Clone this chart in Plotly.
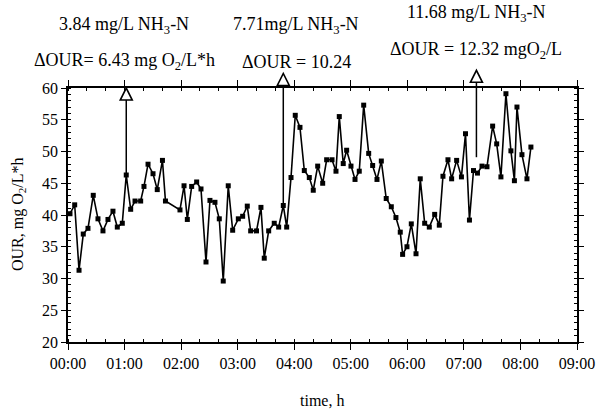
import plotly.graph_objects as go

# time in minutes since 00:00, OUR values (mg O2/L*h)
time_min = [2.1, 7.1, 11.7, 16.2, 21.2, 26.8, 31.8, 37.1, 42.4, 47.7, 52.3, 57.6, 61.8, 66.5,
            71.1, 77.1, 80.6, 84.9, 90.2, 94.7, 100.2, 103.4, 118.8, 123.1, 126.6, 131.2,
            136.5, 141.1, 146.4, 150.6, 155.9, 160.5, 164.7, 170.0, 174.7, 180.7, 185.3,
            190.2, 193.8, 200.0, 204.7, 208.2, 212.9, 218.8, 223.5, 228.4, 232.0, 236.6,
            241.1, 246.1, 250.7, 256.0, 260.2, 264.9, 270.2, 274.4, 280.1, 284.3, 287.8,
            292.0, 295.6, 300.2, 304.5, 309.0, 313.7, 319.0, 323.2, 327.8, 332.4, 337.6,
            343.0, 347.9, 352.5, 355.0, 359.6, 364.2, 369.2, 373.7, 378.4, 383.3, 389.0,
            393.9, 397.8, 403.1, 407.0, 412.3, 417.4, 421.7, 425.9, 430.2, 434.4, 439.2,
            444.5, 450.5, 454.8, 459.3, 464.6, 469.9, 473.6, 476.3, 481.6, 486.9, 491.1]
our = [40.2, 41.6, 31.3, 37.0, 37.9, 43.1, 39.4, 37.5, 39.3, 40.6, 38.1, 38.7, 46.3, 40.9,
       42.2, 42.2, 44.5, 48.0, 46.5, 44.0, 48.6, 42.2, 40.8, 44.6, 39.3, 44.5,
       45.2, 44.1, 32.6, 42.3, 42.0, 39.4, 29.6, 44.6, 37.6, 39.4, 39.8,
       41.4, 37.5, 37.5, 41.2, 33.2, 37.5, 38.7, 38.1, 41.5, 38.1, 45.9,
       55.7, 53.8, 47.0, 45.9, 43.9, 47.7, 45.0, 48.7, 48.7, 46.9, 55.5,
       48.1, 50.2, 47.7, 45.6, 46.9, 57.3, 49.7, 47.8, 45.6, 48.5, 42.6,
       41.3, 39.6, 37.3, 33.8, 35.0, 38.6, 33.9, 45.7, 38.7, 38.1, 40.1,
       38.4, 46.1, 48.7, 45.7, 48.6, 46.0, 52.8, 39.2, 47.0, 46.6, 47.7,
       47.6, 54.0, 51.2, 46.0, 59.1, 50.1, 45.4, 57.0, 49.5, 45.7, 50.7]

# ammonia additions (arrows): time, bottom of shaft, base of arrow head (OUR units)
arrow_time = [61.8, 228.4, 433.3]
arrow_base = [46.3, 41.5, 49.1]
arrow_head = [58.1, 60.4, 60.9]
label_line1 = ["3.84 mg/L NH<sub>3</sub>-N", "7.71mg/L NH<sub>3</sub>-N", "11.68 mg/L NH<sub>3</sub>-N"]
label_line2 = ["ΔOUR= 6.43 mg O<sub>2</sub>/L*h", "ΔOUR = 10.24", "ΔOUR = 12.32 mgO<sub>2</sub>/L"]

tick_vals = [0, 60, 120, 180, 240, 300, 360, 420, 480, 540]
tick_text = ["00:00", "01:00", "02:00", "03:00", "04:00", "05:00", "06:00", "07:00", "08:00", "09:00"]

X_MAX = 540
Y_MIN, Y_MAX = 20, 60
FONT = "Liberation Serif, Times New Roman, serif"
L, R, T, B = 68, 22, 88, 68
W, H = 599, 410
PW, PH = W - L - R, H - T - B

fig = go.Figure()

fig.add_trace(go.Scatter(x=time_min, y=our, mode="lines+markers",
                         line=dict(color="black", width=1.6),
                         marker=dict(symbol="square", size=5, color="black"),
                         showlegend=False))

def to_py(v):
    return (v - Y_MIN) / (Y_MAX - Y_MIN)

# arrows: shaft + open triangle head, drawn unclipped in paper coordinates
for t, b, h in zip(arrow_time, arrow_base, arrow_head):
    px = t / X_MAX
    fig.add_shape(type="line", xref="paper", yref="paper", x0=px, x1=px,
                  y0=to_py(b), y1=to_py(h), line=dict(color="black", width=1.5))
    fig.add_shape(type="path", xref="paper", yref="paper", xsizemode="pixel", ysizemode="pixel",
                  xanchor=px, yanchor=to_py(h), path="M -6,0 L 6,0 L 0,12 Z",
                  fillcolor="white", line=dict(color="black", width=1.6))

# labels (pixel positions converted to paper)
label_y1 = [25, 25, 13]
label_y2 = [62, 62, 50]
label_x = [124, 296, 476]
for lx, y1, y2, t1, t2 in zip(label_x, label_y1, label_y2, label_line1, label_line2):
    for yy, txt in ((y1, t1), (y2, t2)):
        fig.add_annotation(x=(lx - L) / PW, y=(H - B - yy) / PH, xref="paper", yref="paper",
                           text=txt, showarrow=False, xanchor="center", yanchor="middle",
                           font=dict(family=FONT, size=18, color="black"))

# axis titles
fig.add_annotation(x=(322 - L) / PW, y=(H - B - 400) / PH, xref="paper", yref="paper",
                   text="time, h", showarrow=False, xanchor="center", yanchor="middle",
                   font=dict(family=FONT, size=16, color="black"))
fig.add_annotation(x=(18 - L) / PW, y=(H - B - 214) / PH, xref="paper", yref="paper",
                   text="OUR, mg O<sub>2</sub>/L*h", showarrow=False, textangle=-90,
                   xanchor="center", yanchor="middle",
                   font=dict(family=FONT, size=16, color="black"))

fig.update_xaxes(range=[0, X_MAX], tickvals=tick_vals, ticktext=tick_text,
                 showline=True, linecolor="black", linewidth=1.5, mirror="ticks",
                 ticks="outside", ticklen=6, tickwidth=1, tickcolor="black",
                 minor=dict(dtick=20, ticks="inside", ticklen=3, tickcolor="black", showgrid=False),
                 showgrid=False, zeroline=False, automargin=False,
                 tickfont=dict(family=FONT, size=16, color="black"))
fig.update_yaxes(range=[Y_MIN, Y_MAX], dtick=5, tick0=20,
                 showline=True, linecolor="black", linewidth=1.5, mirror="ticks",
                 ticks="outside", ticklen=5, tickwidth=1, tickcolor="black",
                 minor=dict(dtick=1, ticks="inside", ticklen=3, tickcolor="black", showgrid=False),
                 showgrid=False, zeroline=False, automargin=False,
                 tickfont=dict(family=FONT, size=16, color="black"))

fig.update_layout(width=W, height=H, margin=dict(l=L, r=R, t=T, b=B),
                  paper_bgcolor="white", plot_bgcolor="white",
                  font=dict(family=FONT, size=16, color="black"))

fig.write_html("out.html")
